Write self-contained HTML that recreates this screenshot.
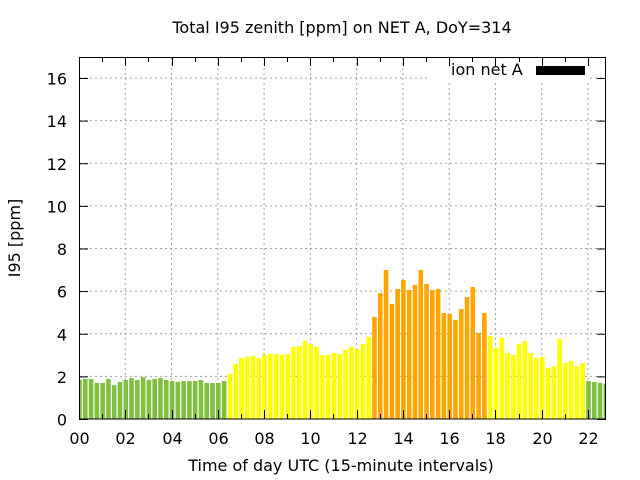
<!DOCTYPE html>
<html><head><meta charset="utf-8"><style>
html,body{margin:0;padding:0;background:#fff;}
svg{display:block;font-family:"DejaVu Sans","Liberation Sans",sans-serif;}
</style></head><body>
<svg id="s" width="640" height="480" viewBox="0 0 640 480" xmlns="http://www.w3.org/2000/svg">
<defs><clipPath id="c"><rect x="79" y="57" width="527" height="362"/></clipPath></defs>
<rect width="640" height="480" fill="#fff"/>
<g id="grid" stroke="#a0a0a0" stroke-width="1" stroke-dasharray="2,3"></g>
<rect x="428" y="58" width="162" height="24" fill="#fff"/>
<g id="bars" clip-path="url(#c)"></g>
<g id="ax" stroke="#000" stroke-width="1" fill="none"></g>
<g id="lab" font-size="16" fill="#000"></g>
<text x="342" y="33" font-size="16" text-anchor="middle">Total I95 zenith [ppm] on NET A, DoY=314</text>
<text x="341" y="471" font-size="16" text-anchor="middle">Time of day UTC (15-minute intervals)</text>
<text transform="translate(20,238) rotate(-90)" font-size="16" text-anchor="middle">I95 [ppm]</text>
<text x="451" y="75" font-size="16">ion net A</text>
<rect x="536" y="66" width="49" height="9" fill="#000"/>
</svg>
<script>
var v=[1.83,1.88,1.88,1.69,1.69,1.88,1.59,1.74,1.83,1.92,1.83,1.97,1.83,1.88,1.92,1.83,1.78,1.74,1.78,1.78,1.78,1.83,1.69,1.69,1.69,1.78,
2.11,2.58,2.86,2.91,2.95,2.86,3.0,3.05,3.05,3.0,3.05,3.38,3.42,3.66,3.52,3.38,3.0,3.0,3.1,3.05,3.24,3.38,3.28,3.52,3.85,
4.79,5.91,6.99,5.40,6.10,6.52,6.05,6.29,6.99,6.33,6.05,6.10,4.97,4.93,4.65,5.16,5.72,6.19,4.04,4.97,
3.90,3.33,3.80,3.10,3.0,3.52,3.66,3.10,2.86,2.91,2.39,2.48,3.75,2.63,2.72,2.48,2.63,1.78,1.74,1.69,1.64];
var ns="http://www.w3.org/2000/svg";
function el(p,t,a,txt){var e=document.createElementNS(ns,t);for(var k in a)e.setAttribute(k,a[k]);if(txt!=null)e.textContent=txt;document.getElementById(p).appendChild(e);return e;}
var x0=79,hr=23.136,y0=419,u=21.3125;
for(var i=0;i<v.length;i++){var c=i<26?"#80c040":(i<51?"#ffff00":(i<71?"#ffa500":(i<88?"#ffff00":"#80c040")));
var cx=x0+0.5+i*hr/4;var h=v[i]*u;el("bars","rect",{x:cx-2.3,y:y0-h,width:4.6,height:h,fill:c});}
for(var k=1;k<=8;k++){var y=y0-2*k*u;el("grid","line",{x1:80,x2:605,y1:y,y2:y});}
for(var k=1;k<=11;k++){var x=x0+2*k*hr;el("grid","line",{x1:x,x2:x,y1:58,y2:418});}
el("ax","rect",{x:79.5,y:57.5,width:526,height:361.5});
for(var k=0;k<=8;k++){var y=y0-2*k*u+0.5;el("ax","line",{x1:79,x2:88,y1:y,y2:y});el("ax","line",{x1:597,x2:606,y1:y,y2:y});
el("lab","text",{x:67,y:y+6,"text-anchor":"end"},String(2*k));}
for(var k=0;k<=22;k++){var x=Math.round(x0+k*hr)+0.5;var L=(k%2==0)?9:5;el("ax","line",{x1:x,x2:x,y1:419,y2:419-L});el("ax","line",{x1:x,x2:x,y1:57,y2:57+L});
if(k%2==0)el("lab","text",{x:x,y:444,"text-anchor":"middle"},(k<10?"0":"")+k);}
</script>
</body></html>
